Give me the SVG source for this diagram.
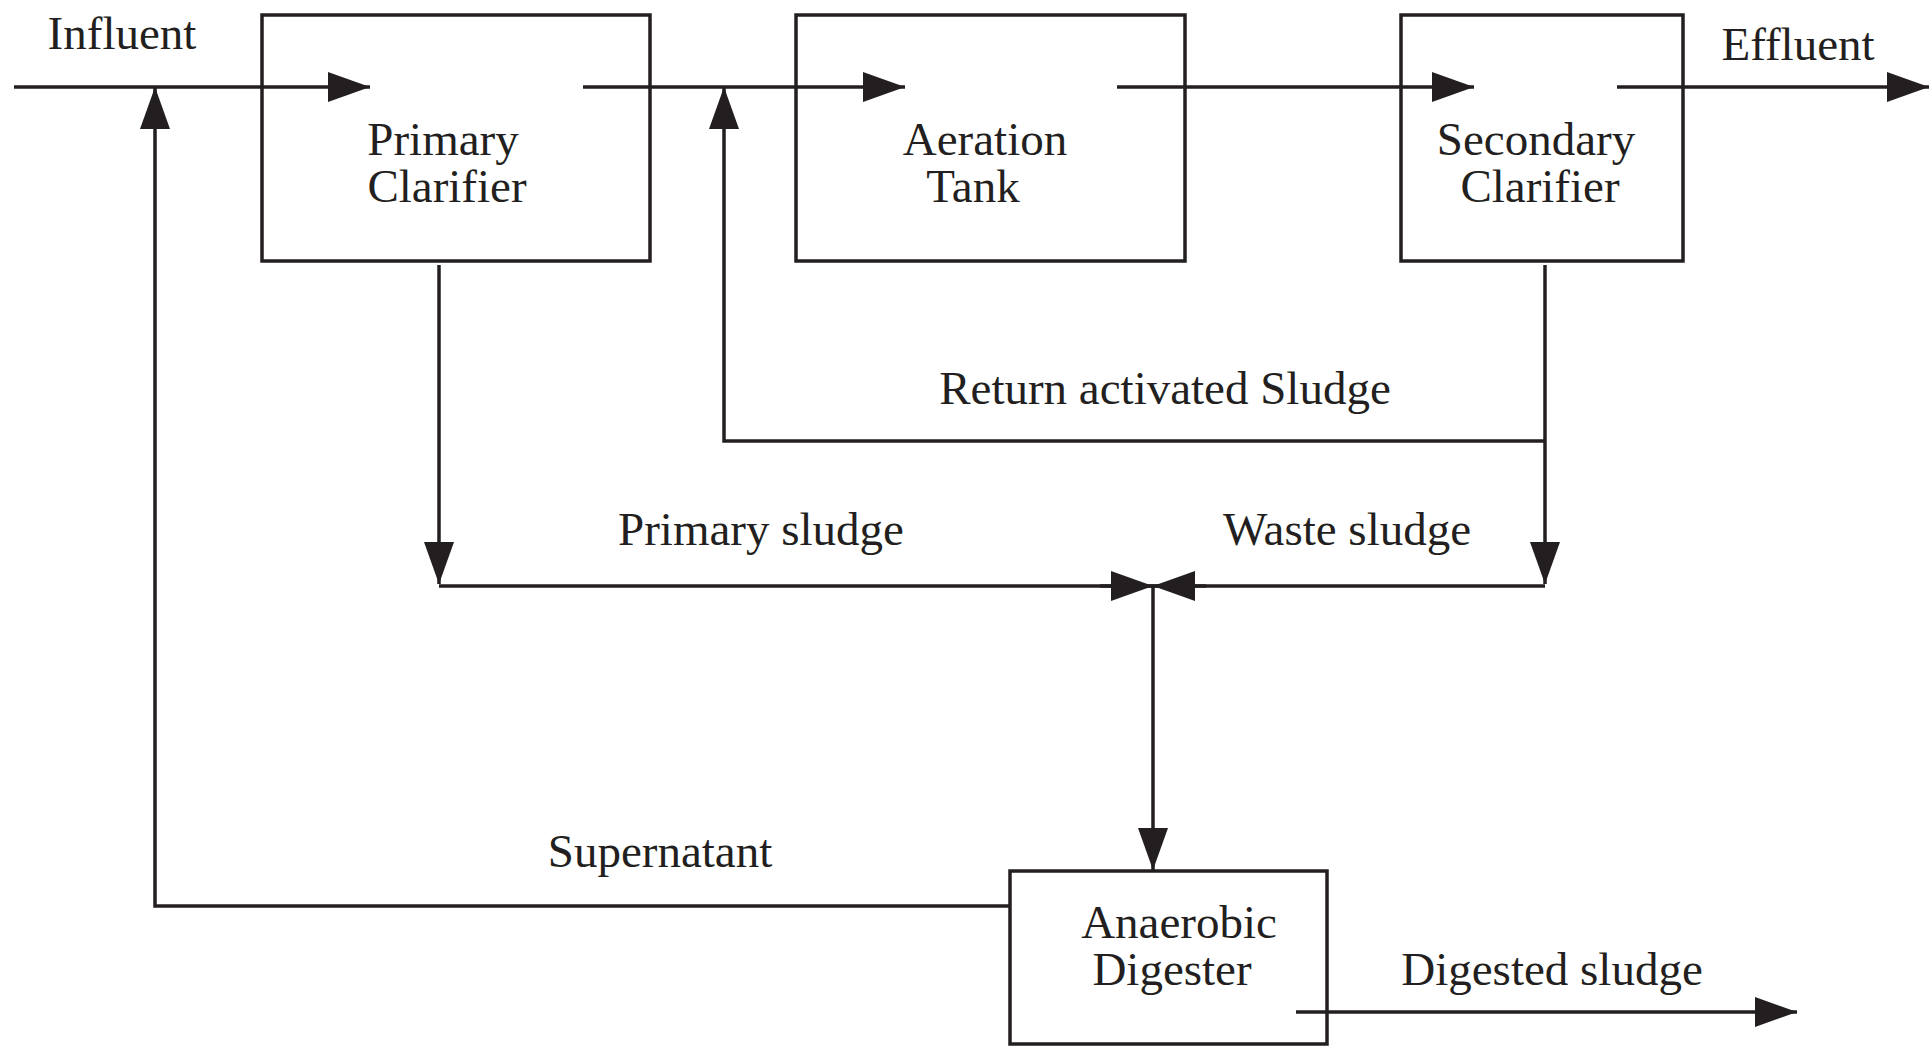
<svg xmlns="http://www.w3.org/2000/svg" width="1929" height="1046" viewBox="0 0 1929 1046">
<style>
.box{fill:none;stroke:#231f20;stroke-width:3.5}
.ln{fill:none;stroke:#231f20;stroke-width:3.5}
.t{font-family:"Liberation Serif","Times New Roman",serif;font-size:47px;fill:#231f20;text-anchor:middle}
</style>
<defs>
<marker id="ah" markerUnits="userSpaceOnUse" markerWidth="44" markerHeight="32" refX="42" refY="15" orient="auto" viewBox="0 0 44 32">
<path d="M0,0 L42,15 L0,30 Z" fill="#231f20"/>
</marker>
</defs>
<rect width="1929" height="1046" fill="#fff"/>
<g id="connectors">
<path class="ln" d="M14,87 L370,87" marker-end="url(#ah)"/>
<path class="ln" d="M583,87 L905,87" marker-end="url(#ah)"/>
<path class="ln" d="M1117,87 L1474,87" marker-end="url(#ah)"/>
<path class="ln" d="M1617,87 L1929,87" marker-end="url(#ah)"/>
<path class="ln" d="M439,265 L439,584" marker-end="url(#ah)"/>
<path class="ln" d="M1545,265 L1545,584" marker-end="url(#ah)"/>
<path class="ln" d="M1545,441 L724,441 L724,87" marker-end="url(#ah)"/>
<path class="ln" d="M439,586 L1545,586"/>
<path class="ln" d="M1100,586 L1153,586" marker-end="url(#ah)"/>
<path class="ln" d="M1206,586 L1153,586" marker-end="url(#ah)"/>
<path class="ln" d="M1153,586 L1153,870" marker-end="url(#ah)"/>
<path class="ln" d="M1010,906 L155,906 L155,87" marker-end="url(#ah)"/>
<path class="ln" d="M1296,1012 L1797,1012" marker-end="url(#ah)"/>
</g>
<g id="primary-clarifier">
<rect class="box" x="262" y="15" width="388" height="246"/>
<text class="t" x="443" y="155">Primary</text>
<text class="t" x="447" y="202">Clarifier</text>
</g>
<g id="aeration-tank">
<rect class="box" x="796" y="15" width="389" height="246"/>
<text class="t" x="985" y="155">Aeration</text>
<text class="t" x="973" y="202">Tank</text>
</g>
<g id="secondary-clarifier">
<rect class="box" x="1401" y="15" width="282" height="246"/>
<text class="t" x="1536" y="155">Secondary</text>
<text class="t" x="1540" y="202">Clarifier</text>
</g>
<g id="anaerobic-digester">
<rect class="box" x="1010" y="871" width="317" height="173"/>
<text class="t" x="1179" y="938">Anaerobic</text>
<text class="t" x="1172" y="985">Digester</text>
</g>
<g id="labels">
<text class="t" x="122" y="49">Influent</text>
<text class="t" x="1798" y="60">Effluent</text>
<text class="t" x="1165" y="404">Return activated Sludge</text>
<text class="t" x="761" y="545">Primary sludge</text>
<text class="t" x="1347" y="545">Waste sludge</text>
<text class="t" x="660" y="867">Supernatant</text>
<text class="t" x="1552" y="985">Digested sludge</text>
</g>
</svg>
